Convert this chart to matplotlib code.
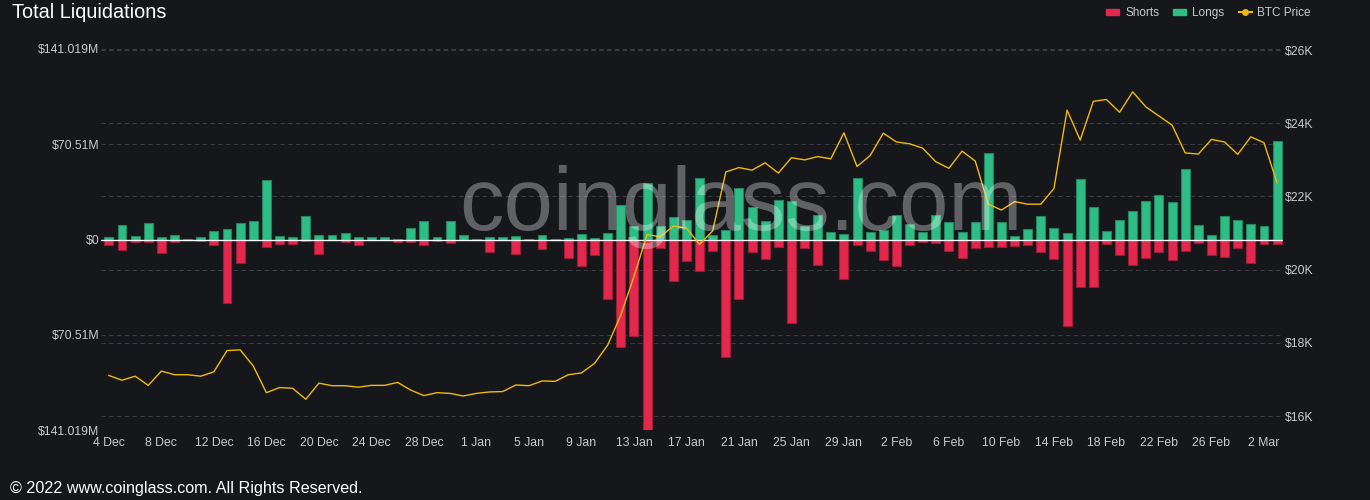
import matplotlib
matplotlib.use("Agg")
import matplotlib.pyplot as plt
import numpy as np
import pandas as pd
from matplotlib.patches import Patch
from matplotlib.lines import Line2D
from matplotlib.ticker import FuncFormatter

# daily dates, 4 Dec 2022 .. 3 Mar 2023
dates = pd.date_range("2022-12-04", periods=90, freq="D")

# long liquidations (million USD)
longs = [2.0, 11, 2.7, 12, 1.7, 3, 0.5, 2.2, 6.4, 8.1,
         12.3, 14, 44.3, 2.7, 2, 17.2, 3.7, 3, 4.7, 1.5,
         2, 2, 0.3, 8.6, 14, 2, 13.8, 3.7, 0.3, 2,
         2.2, 2.5, 0.3, 3.4, 0.3, 1, 4.2, 1.2, 4.7, 25.8,
         9.8, 41.9, 9.8, 16.7, 14.3, 45.6, 3, 6.9, 38.2, 24.1,
         13.8, 29.5, 28.3, 10.3, 18.2, 5.2, 4.4, 45.8, 5.4, 6.9,
         18, 11.8, 5.7, 18.2, 13, 5.2, 13.3, 64.3, 12.8, 2.5,
         7.9, 17.5, 8.6, 4.9, 44.8, 23.9, 6.6, 14.3, 21.4, 28.8,
         33, 28, 52.4, 10.6, 3.7, 17.5, 14.3, 11.6, 9.8, 72.6]

# short liquidations (million USD)
shorts = [4.2, 7.9, 2.2, 2.2, 9.8, 1.5, 0.3, 1.0, 4.2, 47,
          17.2, 0.5, 5.7, 3.7, 3.7, 1.0, 10.6, 0.3, 2.2, 4.2,
          0.3, 0.3, 1.7, 2.1, 4.2, 1.0, 2.5, 0.3, 0.3, 9.1,
          0.3, 10.8, 0.3, 7.1, 0.3, 13.5, 19.9, 11.6, 44, 79.3,
          71.4, 141, 6.6, 30.8, 15.8, 23.4, 8.6, 86.7, 44.3, 9.1,
          14.3, 5.7, 62, 6.2, 19.2, 0.5, 29, 3.9, 8.6, 15,
          19.7, 4.2, 2.2, 2.5, 8.6, 13.8, 6.6, 5.7, 5.2, 4.9,
          4.4, 8.9, 14.3, 64, 35.4, 35, 3.7, 11.6, 19.2, 13.8,
          9.4, 15, 8.6, 2.5, 11.8, 13, 6.2, 17.5, 3.7, 3.7]

# BTC price (thousand USD)
btc_price = [17.11, 16.98, 17.09, 16.84, 17.23, 17.13, 17.13, 17.09, 17.21, 17.79,
             17.81, 17.37, 16.64, 16.78, 16.76, 16.46, 16.90, 16.83, 16.83, 16.79,
             16.84, 16.84, 16.92, 16.71, 16.56, 16.64, 16.62, 16.55, 16.62, 16.66,
             16.67, 16.85, 16.83, 16.96, 16.95, 17.13, 17.18, 17.44, 17.94, 18.76,
             19.81, 20.96, 20.90, 21.19, 21.14, 20.69, 21.06, 22.67, 22.79, 22.72,
             22.92, 22.64, 23.06, 23.00, 23.09, 23.03, 23.74, 22.82, 23.12, 23.73,
             23.49, 23.44, 23.32, 22.95, 22.77, 23.24, 22.97, 21.79, 21.63, 21.86,
             21.79, 21.79, 22.22, 24.36, 23.54, 24.60, 24.65, 24.30, 24.86, 24.45,
             24.20, 23.95, 23.19, 23.16, 23.56, 23.49, 23.15, 23.63, 23.47, 22.37]

left_ticks = [-141.019, -70.51, 0, 70.51, 141.019]
left_labels = ["$141.019M", "$70.51M", "$0", "$70.51M", "$141.019M"]
right_ticks = [16, 18, 20, 22, 24, 26]

bg = "#16171b"
red = "#e4274d"
green = "#2ebd85"
yellow = "#f0b90b"
txt = "#c9cacd"
grid_c = "#3a3b40"
font = "Liberation Sans"
plt.rcParams["font.family"] = [font, "DejaVu Sans"]

x = np.arange(len(dates))
xlabels = [f"{d.day} {d.strftime('%b')}" for d in dates]

fig = plt.figure(figsize=(13.7, 5.0), dpi=100, facecolor=bg)
rect = [101 / 1370, 1 - 430 / 500, (1283 - 101) / 1370, (430 - 49) / 500]

# right-scale grid axes (bottom layer)
axg = fig.add_axes(rect, facecolor=bg, zorder=0)
# bars axes
ax = fig.add_axes(rect, zorder=1)
ax.patch.set_visible(False)
# price line axes
ax2 = fig.add_axes(rect, zorder=2, sharex=ax)
ax2.patch.set_visible(False)

for a in (axg, ax, ax2):
    for s in a.spines.values():
        s.set_visible(False)
    a.set_xlim(-0.6, 89.45)

# right scale grid
axg.set_ylim(15.62, 26.03)
axg.set_yticks(right_ticks)
axg.set_xticks([])
axg.tick_params(left=False, labelleft=False)
axg.grid(axis="y", color=grid_c, linestyle=(0, (4, 3)), linewidth=0.8)

# bars
ax.bar(x, longs, width=0.68, color=green, edgecolor="#23855f", linewidth=0.8, zorder=3)
ax.bar(x, [-v for v in shorts], width=0.68, color=red, edgecolor="#9c1d37", linewidth=0.8, zorder=3)
ax.axhline(0, color="white", linewidth=1, zorder=4)
ax.set_ylim(-141.019, 141.019)
ax.set_yticks(left_ticks)
ax.set_yticklabels(left_labels)
ax.grid(axis="y", color=grid_c, linestyle=(0, (4, 3)), linewidth=0.8, zorder=0)
ax.set_axisbelow(True)
ax.set_xticks(x[::4])
ax.set_xticklabels(xlabels[::4])
ax.tick_params(axis="both", length=0, colors=txt, labelsize=8.8)
ax.tick_params(axis="y", pad=1)
ax.tick_params(axis="x", pad=5)

# price line
ax2.plot(x, btc_price, color=yellow, linewidth=1, zorder=5)
ax2.set_ylim(15.62, 26.03)
ax2.set_yticks(right_ticks)
ax2.yaxis.tick_right()
ax2.yaxis.set_major_formatter(FuncFormatter(lambda v, p: f"${v:.0f}K"))
ax2.tick_params(axis="y", length=0, colors=txt, labelsize=8.8, pad=1)
ax2.tick_params(axis="x", bottom=False, labelbottom=False)

# watermark
fig.text(741 / 1370, 1 - 230 / 500, "coinglass.com", fontsize=64, color="white",
         alpha=0.32, ha="center", va="baseline", zorder=10)

# title and footer
fig.text(12 / 1370, 1 - 12 / 500, "Total Liquidations", fontsize=14.3, color="white",
         ha="left", va="center")
fig.text(10 / 1370, 1 - 488 / 500, "\u00a9 2022 www.coinglass.com. All Rights Reserved.",
         fontsize=11.6, color="white", ha="left", va="center")

handles = [Patch(facecolor=red, edgecolor=red, label="Shorts"),
           Patch(facecolor=green, edgecolor=green, label="Longs"),
           Line2D([0], [0], color=yellow, linewidth=1.5, marker="o", markersize=4,
                  markerfacecolor=yellow, label="BTC Price")]
leg = fig.legend(handles=handles, loc="upper right", bbox_to_anchor=(1318 / 1370, 1.0),
                 ncol=3, frameon=False, fontsize=8.5, handlelength=1.1, handleheight=0.5,
                 handletextpad=0.5, columnspacing=1.2, borderaxespad=0.2)
for t in leg.get_texts():
    t.set_color(txt)

fig.savefig("out.png", dpi=100, facecolor=bg)
